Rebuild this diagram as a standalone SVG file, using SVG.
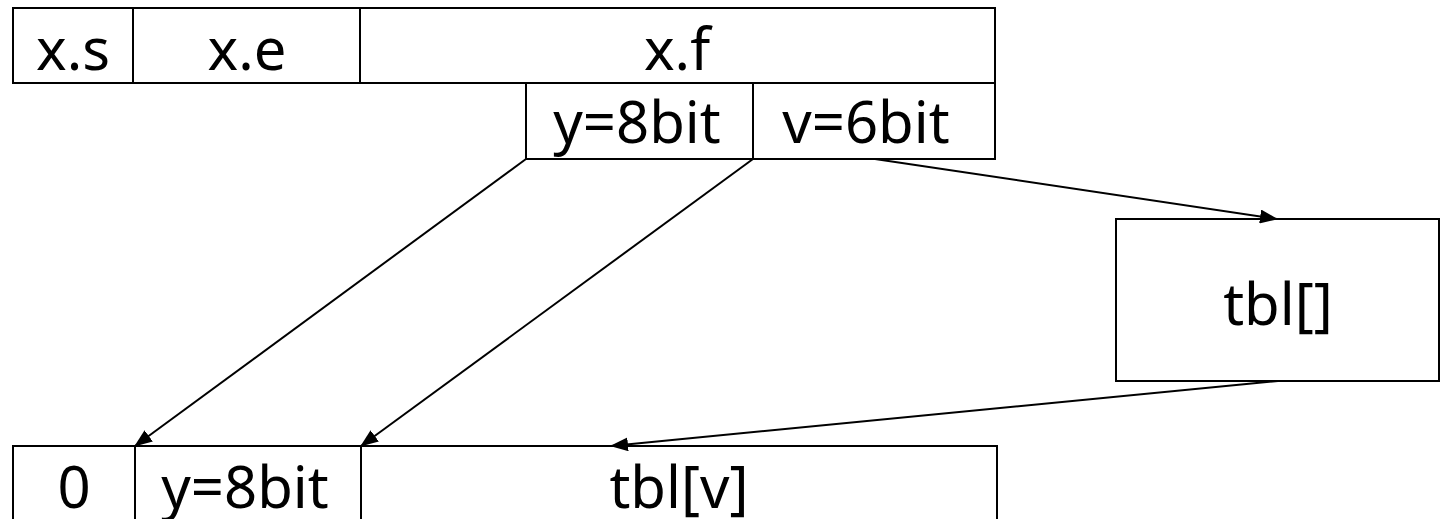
<svg xmlns="http://www.w3.org/2000/svg" width="1441" height="519" viewBox="0 0 1441 519">
<style>
.b{fill:#fff;stroke:#000;stroke-width:2}
.t{font-family:"Noto Sans","Open Sans",sans-serif;font-size:58px;fill:#000;text-anchor:middle}
.c{stroke:#000;stroke-width:2;fill:none;marker-end:url(#ah)}
</style>
<defs>
<marker id="ah" viewBox="0 0 18 14" refX="17" refY="7" markerWidth="18" markerHeight="14" markerUnits="userSpaceOnUse" orient="auto">
<path d="M0,0 L18,7 L0,14 z" fill="#000"/>
</marker>
</defs>
<g id="xs"><rect class="b" x="13" y="8" width="120" height="75"/><text class="t" x="73" y="70">x.s</text></g>
<g id="xe"><rect class="b" x="133" y="8" width="227" height="75"/><text class="t" x="247" y="70">x.e</text></g>
<g id="xf"><rect class="b" x="360" y="8" width="635" height="75"/><text class="t" x="677" y="70">x.f</text></g>
<g id="y"><rect class="b" x="526" y="83" width="227" height="76"/><text class="t" x="637" y="143">y=8bit</text></g>
<g id="v"><rect class="b" x="753" y="83" width="242" height="76"/><text class="t" x="866" y="143">v=6bit</text></g>
<g id="tbl"><rect class="b" x="1116" y="219" width="323" height="162"/><text class="t" x="1278" y="325">tbl[]</text></g>
<g id="zero"><rect class="b" x="13" y="446" width="122" height="90"/><text class="t" x="74" y="508">0</text></g>
<g id="y2"><rect class="b" x="135" y="446" width="226" height="90"/><text class="t" x="245" y="508">y=8bit</text></g>
<g id="tblv"><rect class="b" x="361" y="446" width="636" height="90"/><text class="t" x="679" y="508">tbl[v]</text></g>
<g id="connectors">
<line class="c" x1="526" y1="159" x2="135" y2="446"/>
<line class="c" x1="753" y1="159" x2="361" y2="446"/>
<line class="c" x1="875" y1="159" x2="1277" y2="219"/>
<line class="c" x1="1278" y1="381" x2="611" y2="446"/>
</g>
</svg>
